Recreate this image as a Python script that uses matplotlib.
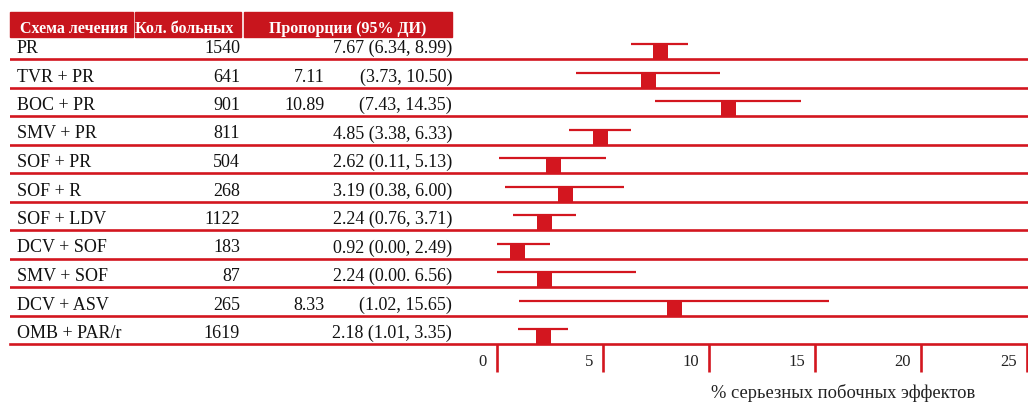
import matplotlib
matplotlib.use("Agg")
import matplotlib.pyplot as plt
from matplotlib.patches import Rectangle
from matplotlib.transforms import blended_transform_factory

plt.rcParams['font.family'] = ['Liberation Serif', 'DejaVu Serif']

# ---------------- data ----------------
regimens = ["PR", "TVR + PR", "BOC + PR", "SMV + PR", "SOF + PR", "SOF + R",
            "SOF + LDV", "DCV + SOF", "SMV + SOF", "DCV + ASV", "OMB + PAR/r"]
patients = [1540, 641, 901, 811, 504, 268, 1122, 183, 87, 265, 1619]
estimates = [7.67, 7.11, 10.89, 4.85, 2.62, 3.19, 2.24, 0.92, 2.24, 8.33, 2.18]
lower = [6.34, 3.73, 7.43, 3.38, 0.11, 0.38, 0.76, 0.00, 0.00, 1.02, 1.01]
upper = [8.99, 10.50, 14.35, 6.33, 5.13, 6.00, 3.71, 2.49, 6.56, 15.65, 3.35]
ci_text = ["(6.34, 8.99)", "(3.73, 10.50)", "(7.43, 14.35)", "(3.38, 6.33)",
           "(0.11, 5.13)", "(0.38, 6.00)", "(0.76, 3.71)", "(0.00, 2.49)",
           "(0.00. 6.56)", "(1.02, 15.65)", "(1.01, 3.35)"]
split_cols = [False, True, True, False, False, False, False, False, False, True, False]
headers = ["Схема лечения", "Кол. больных", "Пропорции (95% ДИ)"]
xticks = [0, 5, 10, 15, 20, 25]
xlabel = "% серьезных побочных эффектов"

RED = "#d3161f"
HEAD = "#c8151d"

W, H = 1028, 403
fig = plt.figure(figsize=(W / 100, H / 100), dpi=100)

# axes: from x=10px to 1028px, y from 12px (top) to 344px (axis line)
left_px, right_px, top_px, bot_px = 10, 1028, 12, 344
ax = fig.add_axes([left_px / W, (H - bot_px) / H,
                   (right_px - left_px) / W, (bot_px - top_px) / H])
row_h = 28.5
nrows = len(regimens)
ax.set_ylim(-nrows, -1 + (59 - top_px) / row_h)
px_per_unit = 21.2
zero_px = 497
ax.set_xlim((left_px - zero_px) / px_per_unit, (right_px - zero_px) / px_per_unit)

for s in ["top", "right", "left"]:
    ax.spines[s].set_visible(False)
ax.spines["bottom"].set_color(RED)
ax.spines["bottom"].set_linewidth(1.9)
ax.set_yticks([])
ax.set_xticks(xticks, labels=[""] * len(xticks))
ax.tick_params(axis="x", direction="out", length=20, width=1.9, color=RED)

# tick labels left of ticks
for t in xticks:
    ax.annotate(str(t), xy=(t, 0), xycoords=("data", "axes fraction"),
                xytext=(-10, -18), textcoords="offset pixels",
                ha="right", va="center", fontsize=12, color="#222222")

ax.set_xlabel(xlabel, fontsize=13.3, color="#222222")
ax.xaxis.set_label_coords((843 - left_px) / (right_px - left_px), -0.12)

# row lines
for i in range(nrows - 1):
    ax.axhline(-(i + 1), color=RED, lw=1.9, zorder=2)

# whiskers and boxes
whisk_off = 15 / row_h
box_off = 7 / row_h
for i in range(nrows):
    yl = -(i + 1)
    ax.hlines(yl + whisk_off, lower[i], upper[i], color=RED, lw=1.6, zorder=3)
    ax.plot(estimates[i], yl + box_off, marker="s", ms=10.8, color=RED,
            mec=RED, mew=0, zorder=4)

# text columns
tr = blended_transform_factory(fig.transFigure, ax.transData)
base_off = 6 / row_h
fs = 13
for i in range(nrows):
    yb = -(i + 1) + base_off
    ax.text(17 / W, yb, regimens[i], transform=tr, ha="left", va="baseline",
            fontsize=fs, color="#111111")
    ax.text(240 / W, yb, str(patients[i]), transform=tr, ha="right",
            va="baseline", fontsize=fs, color="#111111")
    if split_cols[i]:
        ax.text(325 / W, yb, f"{estimates[i]:.2f}", transform=tr, ha="right",
                va="baseline", fontsize=fs, color="#111111")
        ax.text(452 / W, yb, ci_text[i], transform=tr, ha="right",
                va="baseline", fontsize=fs, color="#111111")
    else:
        ax.text(452 / W, yb, f"{estimates[i]:.2f} {ci_text[i]}", transform=tr,
                ha="right", va="baseline", fontsize=fs, color="#111111")

# header boxes
hdr_x = [(10, 133), (135, 241), (244, 452)]
hy0, hy1 = 12, 37
for (x0, x1), label in zip(hdr_x, headers):
    fig.patches.append(Rectangle((x0 / W, (H - hy1) / H), (x1 - x0) / W,
                                 (hy1 - hy0) / H, transform=fig.transFigure,
                                 color=HEAD, zorder=1))
fig.text(20 / W, (H - 33) / H, headers[0], ha="left", va="baseline",
         color="white", fontsize=11.5, fontweight="bold")
fig.text(135 / W, (H - 33) / H, headers[1], ha="left", va="baseline",
         color="white", fontsize=11.5, fontweight="bold")
fig.text(348 / W, (H - 33) / H, headers[2], ha="center", va="baseline",
         color="white", fontsize=11.5, fontweight="bold")

fig.savefig("out.png", dpi=100, facecolor="white")
